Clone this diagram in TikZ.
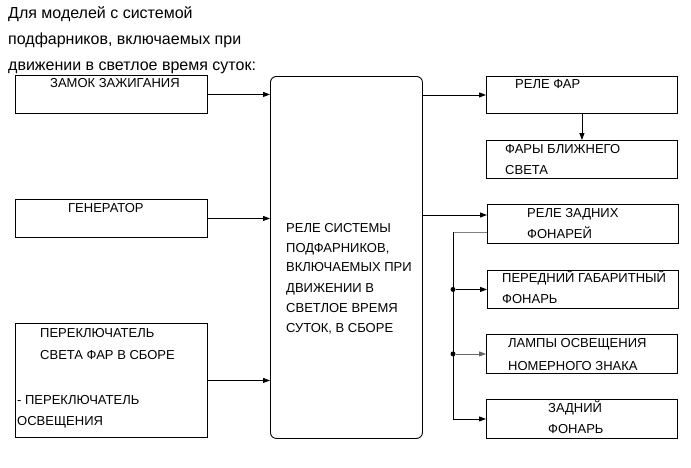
\documentclass[tikz,border=0pt]{standalone}
\usepackage{fontspec}
\setmainfont{Liberation Sans}
\usetikzlibrary{arrows.meta}
\begin{document}
\begin{tikzpicture}[x=1pt,y=-1pt,
  box/.style={draw, line width=0.9pt, inner sep=0pt, anchor=north west},
  lbl/.style={anchor=base west, inner sep=0pt, font=\fontsize{13}{15}\selectfont},
  ttl/.style={anchor=base west, inner sep=0pt, font=\fontsize{16}{18}\selectfont},
  arr/.style={-{Triangle[length=7pt,width=5pt]}, line width=0.9pt},
  ln/.style={line width=0.9pt},
  dot/.style={circle, fill, inner sep=0pt, minimum size=5pt}]
\useasboundingbox[fill=white] (0,0) rectangle (691,467);
% title
\node[ttl] (t1) at (8,18) {Для моделей с системой};
\node[ttl] (t2) at (8,44) {подфарников, включаемых при};
\node[ttl] (t3) at (8,70) {движении в светлое время суток:};
% boxes
\node[box, minimum width=192pt, minimum height=38pt] (zamok) at (15,75) {};
\node[box, minimum width=192pt, minimum height=38pt] (gen) at (15,199) {};
\node[box, minimum width=192pt, minimum height=114pt] (switch) at (15,323) {};
\node[box, rounded corners=6pt, minimum width=152pt, minimum height=362pt] (center) at (270,76) {};
\node[box, minimum width=191pt, minimum height=37pt] (rfar) at (486,76) {};
\node[box, minimum width=191pt, minimum height=38pt] (farb) at (486,140) {};
\node[box, minimum width=191pt, minimum height=39pt] (rzad) at (487,204) {};
\node[box, minimum width=191pt, minimum height=38pt] (pgab) at (487,270) {};
\node[box, minimum width=191pt, minimum height=39pt] (lamp) at (486,334) {};
\node[box, minimum width=191pt, minimum height=39pt] (zad) at (486,399) {};
% labels
\node[lbl] (l1) at (50,87) {ЗАМОК ЗАЖИГАНИЯ};
\node[lbl] (l2) at (68,212) {ГЕНЕРАТОР};
\node[lbl] (l3) at (40,337) {ПЕРЕКЛЮЧАТЕЛЬ};
\node[lbl] (l4) at (40,359) {СВЕТА ФАР В СБОРЕ};
\node[lbl] (l5) at (17,404) {- ПЕРЕКЛЮЧАТЕЛЬ};
\node[lbl] (l6) at (17,425) {ОСВЕЩЕНИЯ};
\node[lbl] (c1) at (286,232) {РЕЛЕ СИСТЕМЫ};
\node[lbl] (c2) at (286,252) {ПОДФАРНИКОВ,};
\node[lbl] (c3) at (286,271) {ВКЛЮЧАЕМЫХ ПРИ};
\node[lbl] (c4) at (286,292) {ДВИЖЕНИИ В};
\node[lbl] (c5) at (286,312) {СВЕТЛОЕ ВРЕМЯ};
\node[lbl] (c6) at (286,332) {СУТОК, В СБОРЕ};
\node[lbl] (r1) at (515,88) {РЕЛЕ ФАР};
\node[lbl] (r2) at (505,153) {ФАРЫ БЛИЖНЕГО};
\node[lbl] (r3) at (505,174) {СВЕТА};
\node[lbl] (r4) at (527,217) {РЕЛЕ ЗАДНИХ};
\node[lbl] (r5) at (527,238) {ФОНАРЕЙ};
\node[lbl] (r6) at (502,282) {ПЕРЕДНИЙ ГАБАРИТНЫЙ};
\node[lbl] (r7) at (502,303) {ФОНАРЬ};
\node[lbl] (r8) at (508,347) {ЛАМПЫ ОСВЕЩЕНИЯ};
\node[lbl] (r9) at (508,370) {НОМЕРНОГО ЗНАКА};
\node[lbl] (r10) at (548,412) {ЗАДНИЙ};
\node[lbl] (r11) at (548,433) {ФОНАРЬ};
% connectors
\draw[arr] (zamok.east) -- (zamok.east -| center.west);
\draw[arr] (gen.east) -- (gen.east -| center.west);
\draw[arr] (switch.east) -- (switch.east -| center.west);
\draw[arr] (rfar.west -| center.east) -- (rfar.west);
\draw[arr] (rfar.south) -- (farb.north);
\coordinate (rz) at (0,215);
\draw[arr] (center.east |- rz) -- (rzad.west |- rz);
\coordinate (bx) at (453,232);
\draw[ln, gray] (rzad.west |- bx) -- (bx);
\draw[ln] (bx) -- (bx |- zad.west);
\draw[arr] (bx |- zad.west) -- (zad.west);
\node[dot] (d1) at (bx |- pgab.west) {};
\node[dot] (d2) at (bx |- lamp.west) {};
\draw[arr] (d1) -- (pgab.west);
\draw[arr, draw=gray!80!black] (d2) -- (lamp.west);
\end{tikzpicture}
\end{document}
